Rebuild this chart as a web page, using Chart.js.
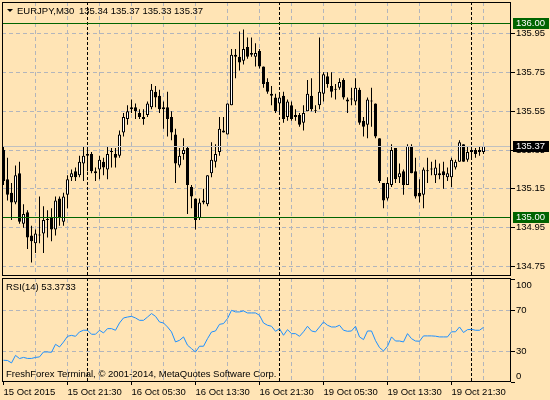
<!DOCTYPE html>
<html><head><meta charset="utf-8">
<script src="https://cdn.jsdelivr.net/npm/chart.js@4.4.1/dist/chart.umd.min.js"></script>
<style>
html,body{margin:0;padding:0;background:#FFE4B5;width:550px;height:400px;overflow:hidden}
canvas{position:absolute;left:0}
#main{top:0}
#rsi{top:277px}
</style></head><body>
<canvas id="main" width="550" height="277"></canvas>
<canvas id="rsi" width="550" height="123"></canvas>
<script>
const symbol = 'EURJPY,M30';
const open = [135.35,135.20,135.13,135.08,135.23,134.97,135.03,134.91,134.87,134.91,134.92,134.99,135.00,134.94,135.10,134.98,135.12,135.21,135.24,135.22,
135.28,135.33,135.33,135.23,135.25,135.29,135.25,135.34,135.33,135.32,135.44,135.51,135.56,135.57,135.54,135.51,135.53,135.57,135.65,135.63,
135.57,135.57,135.52,135.43,135.27,135.33,135.36,135.16,135.10,135.00,135.09,135.07,135.23,135.29,135.34,135.44,135.43,135.58,135.83,135.83,
135.81,135.88,135.84,135.83,135.86,135.78,135.70,135.64,135.62,135.59,135.63,135.52,135.58,135.53,135.53,135.49,135.55,135.63,135.55,135.58,
135.64,135.73,135.68,135.66,135.67,135.71,135.61,135.61,135.60,135.66,135.50,135.48,135.60,135.59,135.41,135.18,135.10,135.17,135.36,135.21,
135.24,135.17,135.37,135.24,135.13,135.12,135.24,135.25,135.22,135.23,135.24,135.21,135.21,135.26,135.29,135.38,135.30,135.35,135.35,135.35,135.34];
const high = [135.37,135.31,135.18,135.27,135.29,135.07,135.04,134.96,134.94,135.11,135.06,135.04,135.05,135.11,135.11,135.13,135.22,135.25,135.26,135.32,
135.37,135.37,135.34,135.26,135.32,135.31,135.37,135.36,135.36,135.45,135.54,135.58,135.61,135.59,135.56,135.56,135.60,135.69,135.68,135.66,
135.60,135.65,135.55,135.46,135.36,135.41,135.37,135.17,135.10,135.10,135.15,135.22,135.39,135.38,135.52,135.52,135.59,135.87,135.87,135.96,
135.97,135.93,135.93,135.90,135.87,135.78,135.72,135.68,135.64,135.64,135.65,135.61,135.60,135.56,135.54,135.58,135.71,135.72,135.58,135.93,
135.75,135.75,135.75,135.69,135.72,135.72,135.62,135.67,135.72,135.67,135.52,135.62,135.67,135.59,135.41,135.18,135.21,135.38,135.36,135.28,
135.25,135.38,135.38,135.31,135.20,135.26,135.31,135.29,135.30,135.28,135.29,135.26,135.31,135.30,135.40,135.38,135.37,135.37,135.36,135.37,135.37];
const low = [135.17,135.09,134.99,135.07,134.97,134.95,134.84,134.77,134.82,134.87,134.82,134.90,134.88,134.91,134.96,134.96,135.05,135.19,135.19,135.21,
135.19,135.24,135.23,135.19,135.20,135.22,135.20,135.26,135.26,135.31,135.42,135.48,135.54,135.51,135.51,135.48,135.52,135.56,135.57,135.54,
135.46,135.42,135.40,135.18,135.26,135.30,135.02,135.05,134.94,134.99,135.07,135.06,135.21,135.26,135.32,135.44,135.43,135.58,135.72,135.76,
135.79,135.82,135.83,135.78,135.77,135.67,135.64,135.58,135.54,135.54,135.49,135.50,135.50,135.50,135.47,135.45,135.55,135.55,135.54,135.56,
135.60,135.67,135.62,135.61,135.66,135.61,135.54,135.58,135.58,135.48,135.42,135.41,135.47,135.41,135.18,135.05,135.09,135.16,135.18,135.18,
135.12,135.17,135.23,135.10,135.08,135.05,135.18,135.22,135.18,135.20,135.15,135.19,135.16,135.25,135.29,135.29,135.29,135.31,135.31,135.32,135.33];
const close = [135.19,135.12,135.08,135.22,134.98,135.02,134.90,134.88,134.92,134.91,134.99,134.99,134.94,135.09,135.00,135.11,135.20,135.23,135.21,135.29,
135.32,135.32,135.24,135.24,135.30,135.26,135.33,135.34,135.31,135.43,135.52,135.55,135.57,135.55,135.52,135.52,135.59,135.66,135.62,135.56,
135.56,135.51,135.44,135.28,135.32,135.35,135.17,135.11,134.99,135.08,135.08,135.22,135.30,135.33,135.46,135.45,135.59,135.84,135.84,135.80,
135.87,135.83,135.85,135.85,135.78,135.69,135.65,135.63,135.55,135.62,135.51,135.60,135.51,135.52,135.48,135.54,135.64,135.56,135.55,135.65,
135.74,135.69,135.65,135.66,135.70,135.62,135.60,135.61,135.67,135.49,135.47,135.61,135.60,135.42,135.19,135.09,135.18,135.35,135.20,135.23,
135.17,135.37,135.23,135.11,135.11,135.25,135.24,135.25,135.26,135.22,135.22,135.23,135.30,135.29,135.39,135.29,135.34,135.34,135.33,135.34,135.37];
const rsi = [21.2,21.0,18.6,26.0,22.9,24.0,23.0,23.0,24.0,24.5,29.3,29.3,29.0,36.8,34.2,39.0,44.6,45.5,44.6,48.9,
50.5,50.5,46.6,46.6,50.5,47.9,52.1,52.1,50.5,57.6,62.5,63.4,64.1,62.5,60.2,60.2,63.4,66.8,64.1,58.6,
57.6,53.7,48.9,39.1,40.7,44.0,35.9,32.6,29.3,34.9,34.9,42.3,48.8,49.8,56.3,57.0,61.9,70.0,68.4,68.4,
69.4,67.4,67.4,67.4,65.1,57.6,55.4,54.4,49.5,52.0,45.6,51.1,47.2,47.2,44.6,49.0,54.4,49.8,48.9,53.7,
58.6,55.4,53.7,53.7,55.4,50.5,49.5,49.8,54.4,44.0,41.4,49.8,49.8,40.4,33.6,30.3,34.9,44.0,40.0,40.0,
39.1,47.2,42.3,40.0,39.8,45.0,45.0,45.0,44.7,44.0,44.0,44.0,49.0,49.0,53.7,48.3,51.1,51.4,50.5,50.5,53.37];
const rsiName = 'RSI(14)';
const rsiLast = '53.3733';
const timeTickIndex = [0,16,32,48,64,80,96,112];
const timeTickLabels = ['15 Oct 2015','15 Oct 21:30','16 Oct 05:30','16 Oct 13:30','16 Oct 21:30','19 Oct 05:30','19 Oct 13:30','19 Oct 21:30'];
const gridBars = [0,8,16,24,32,40,48,56,64,72,80,88,96,104,112,120];
const daySeparators = [21,69,117];
const priceTicks = [134.75,134.95,135.15,135.35,135.55,135.75,135.95];
const rsiTicks = [0,30,70,100];
const levels = [136.00,135.00];
const bid = 135.37;
const copyright = 'FreshForex Terminal, \u00A9 2001-2014, MetaQuotes Software Corp.';

const FAM = '"Liberation Sans", Arial, sans-serif';
const FONT = {family: FAM, size: 9.5, lineHeight: '12px'};
const CSS_FONT = '9.5px ' + FAM;
const GRID = '#B2B5BC';
const DASH = [4,3];
const idx = open.map((_, i) => i);
const XMIN = -0.375, XMAX = 126.875;

function drawSeparators(chart) {
  const {ctx, chartArea: a, scales: {x}} = chart;
  ctx.save();
  ctx.strokeStyle = '#000'; ctx.lineWidth = 1; ctx.setLineDash([3,2]);
  daySeparators.forEach(i => {
    const px = Math.floor(x.getPixelForValue(i)) + 0.5;
    ctx.beginPath(); ctx.moveTo(px, a.top); ctx.lineTo(px, a.bottom); ctx.stroke();
  });
  ctx.restore();
}
function drawFrame(chart) {
  const {ctx, chartArea: a} = chart;
  ctx.save();
  ctx.strokeStyle = '#000'; ctx.lineWidth = 1; ctx.setLineDash([]);
  ctx.strokeRect(a.left + 0.5, a.top + 0.5, a.right - a.left - 1, a.bottom - a.top - 1);
  ctx.restore();
}
function priceBox(ctx, y, text, fill) {
  const yy = Math.floor(y);
  ctx.fillStyle = fill;
  ctx.fillRect(513, yy - 5, 36, 11);
  ctx.fillStyle = '#fff';
  ctx.font = CSS_FONT; ctx.textBaseline = 'middle'; ctx.textAlign = 'left';
  ctx.fillText(text, 516, yy + 0.5);
}

const mainPlugin = {
  id: 'mainDecor',
  beforeDatasetsDraw(chart) { drawSeparators(chart); },
  afterDatasetsDraw(chart) {
    const {ctx, chartArea: a, scales: {y}} = chart;
    ctx.save();
    ctx.lineWidth = 1; ctx.setLineDash([]);
    const by = Math.floor(y.getPixelForValue(bid)) + 0.5;
    ctx.strokeStyle = '#C0C0C0';
    ctx.beginPath(); ctx.moveTo(a.left, by); ctx.lineTo(a.right, by); ctx.stroke();
    ctx.strokeStyle = '#006400';
    levels.forEach(v => {
      const ly = Math.floor(y.getPixelForValue(v)) + 0.5;
      ctx.beginPath(); ctx.moveTo(a.left, ly); ctx.lineTo(a.right, ly); ctx.stroke();
    });
    ctx.restore();
  },
  afterDraw(chart) {
    const {ctx, scales: {y}} = chart;
    drawFrame(chart);
    ctx.save();
    levels.forEach(v => priceBox(ctx, y.getPixelForValue(v), v.toFixed(2), '#006400'));
    priceBox(ctx, y.getPixelForValue(bid), bid.toFixed(2), '#000');
    ctx.fillStyle = '#000';
    ctx.beginPath(); ctx.moveTo(7, 9); ctx.lineTo(13, 9); ctx.lineTo(10, 12); ctx.closePath(); ctx.fill();
    ctx.font = CSS_FONT; ctx.textBaseline = 'middle'; ctx.textAlign = 'left';
    ctx.fillText(symbol, 17, 11);
    const n = open.length - 1;
    ctx.fillText([open[n], high[n], low[n], close[n]].map(v => v.toFixed(2)).join(' '), 79, 11);
    ctx.restore();
  }
};

new Chart(document.getElementById('main'), {
  type: 'bar',
  data: {
    datasets: [
      {
        label: 'wick',
        data: idx.map(i => ({x: i, y: [low[i], high[i]]})),
        backgroundColor: '#000', borderWidth: 0, barThickness: 1,
        grouped: false, inflateAmount: 0, order: 2
      },
      {
        label: 'body',
        data: idx.map(i => ({x: i, y: [open[i], close[i]]})),
        backgroundColor: c => close[c.dataIndex] >= open[c.dataIndex] ? '#FFFFFF' : '#000000',
        borderColor: '#000', borderWidth: 1, borderSkipped: false, barThickness: 3,
        minBarLength: 1, grouped: false, inflateAmount: 0, order: 1
      }
    ]
  },
  options: {
    responsive: false, animation: false, devicePixelRatio: 1,
    layout: {padding: {left: 2, top: 2, right: 0, bottom: 1}},
    plugins: {legend: {display: false}, tooltip: {enabled: false}, title: {display: false}},
    scales: {
      x: {
        type: 'linear', min: XMIN, max: XMAX, bounds: 'data', offset: false,
        afterBuildTicks: s => { s.ticks = gridBars.map(v => ({value: v})); },
        ticks: {display: false},
        grid: {offset: false, drawTicks: false, color: c => (c.tick && c.tick.value === 0) ? 'transparent' : GRID},
        border: {display: false, dash: DASH},
        afterFit: s => { s.height = 0; s.paddingLeft = 0; s.paddingRight = 0; }
      },
      y: {
        type: 'linear', position: 'right', min: 134.7011, max: 136.1122, bounds: 'data', beginAtZero: false,
        afterBuildTicks: s => { s.ticks = priceTicks.map(v => ({value: v})); },
        ticks: {font: FONT, color: '#000', padding: 1, callback: v => Number(v).toFixed(2)},
        grid: {color: GRID, tickColor: '#000', tickLength: 4, tickBorderDash: []},
        border: {display: false, dash: DASH},
        afterFit: s => { s.width = 39; s.paddingTop = 0; s.paddingBottom = 0; }
      }
    }
  },
  plugins: [mainPlugin]
});

const rsiPlugin = {
  id: 'rsiDecor',
  beforeDatasetsDraw(chart) { drawSeparators(chart); },
  afterDraw(chart) {
    const {ctx} = chart;
    drawFrame(chart);
    ctx.save();
    ctx.fillStyle = '#000'; ctx.font = CSS_FONT; ctx.textBaseline = 'middle'; ctx.textAlign = 'left';
    ctx.fillText(rsiName + ' ' + rsiLast, 6, 10);
    ctx.fillText(copyright, 6, 97);
    ctx.restore();
  }
};

new Chart(document.getElementById('rsi'), {
  type: 'line',
  data: {
    datasets: [{
      label: rsiName,
      data: idx.map(i => ({x: i, y: rsi[i]})),
      borderColor: '#1E90FF', borderWidth: 1, pointRadius: 0, tension: 0, fill: false
    }]
  },
  options: {
    responsive: false, animation: false, devicePixelRatio: 1,
    layout: {padding: {left: 2, top: 1, right: 0, bottom: 0}},
    plugins: {legend: {display: false}, tooltip: {enabled: false}},
    scales: {
      x: {
        type: 'linear', min: XMIN, max: XMAX, bounds: 'data', offset: false,
        afterBuildTicks: s => { s.ticks = gridBars.map(v => ({value: v})); },
        ticks: {
          font: FONT, color: '#000', align: 'start', autoSkip: false, maxRotation: 0, minRotation: 0, padding: 1,
          callback: v => { const k = timeTickIndex.indexOf(v); return k >= 0 ? timeTickLabels[k] : ''; }
        },
        grid: {
          offset: false, tickLength: 3, tickBorderDash: [],
          color: c => (c.tick && c.tick.value === 0) ? 'transparent' : GRID,
          tickColor: c => (c.tick && timeTickIndex.includes(c.tick.value)) ? '#000' : 'transparent'
        },
        border: {display: false, dash: DASH},
        afterFit: s => { s.height = 18; s.paddingLeft = 0; s.paddingRight = 0; }
      },
      y: {
        type: 'linear', position: 'right', min: 0, max: 101.5, bounds: 'data',
        afterBuildTicks: s => { s.ticks = rsiTicks.map(v => ({value: v})); },
        ticks: {
          font: FONT, color: '#000', padding: 1,
          callback: v => v === 100 ? ['', '100'] : (v === 0 ? ['0', ''] : String(v))
        },
        grid: {
          tickColor: '#000', tickLength: 4, tickBorderDash: [],
          color: c => (c.tick && (c.tick.value === 30 || c.tick.value === 70)) ? GRID : 'transparent'
        },
        border: {display: false, dash: DASH},
        afterFit: s => { s.width = 39; s.paddingTop = 0; s.paddingBottom = 0; }
      }
    }
  },
  plugins: [rsiPlugin]
});
</script>
</body></html>
